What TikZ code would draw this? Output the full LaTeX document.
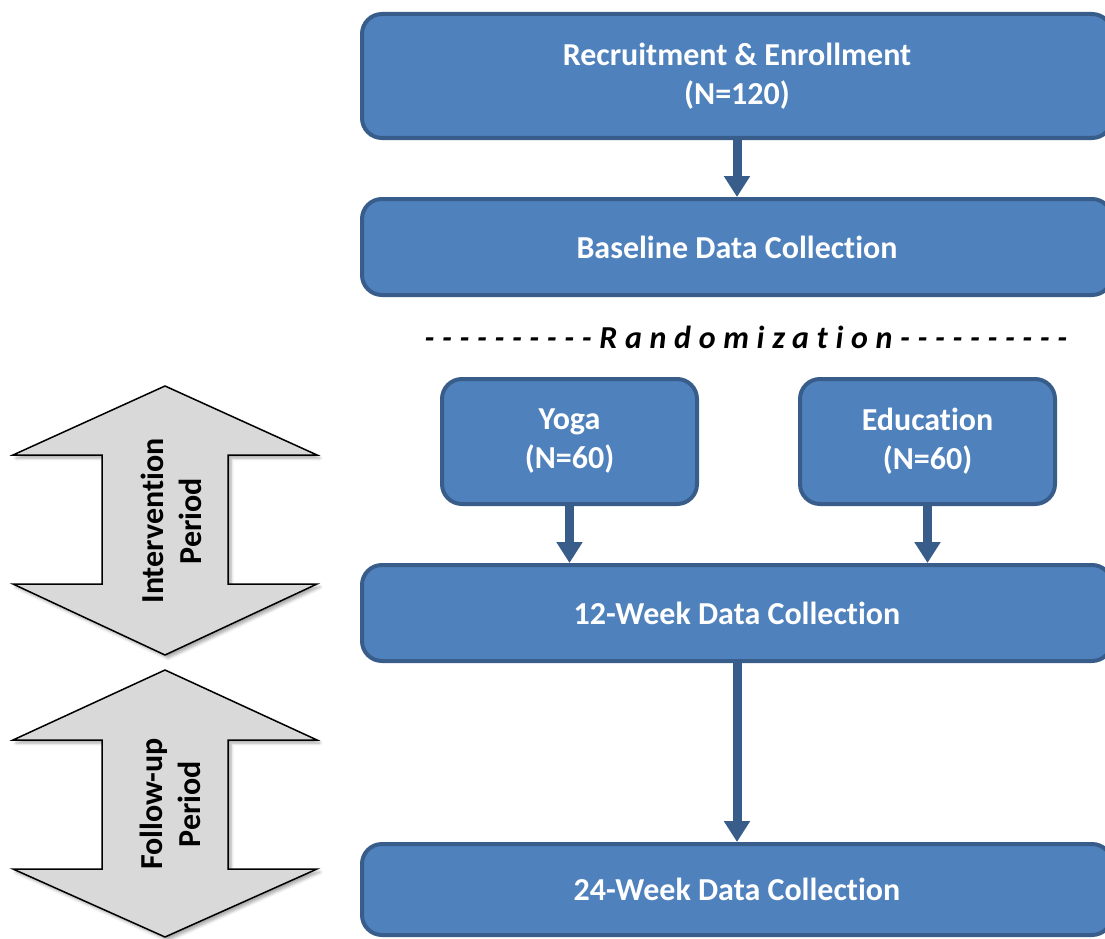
\documentclass[tikz,border=0pt]{standalone}
\usepackage{fontspec}
\setmainfont{Carlito}[Ligatures={TeX,NoCommon,NoContextual,NoRare}, Contextuals=NoAlternate]
\newfontfamily\randfont{Carlito}[LetterSpace=24, Ligatures={NoCommon,NoContextual,NoRare}, Contextuals=NoAlternate]
\usetikzlibrary{arrows.meta,shadows.blur}
\definecolor{boxfill}{HTML}{4F81BD}
\definecolor{boxline}{HTML}{385D8A}
\definecolor{periodfill}{HTML}{D9D9D9}
\newcommand{\dashrun}{-{}-{}-{}-{}-{}-{}-{}-{}-{}-}
\tikzset{
  stagebox/.style={draw=boxline, fill=boxfill, line width=4pt, rounded corners=20pt,
    text=white, align=center, inner sep=0pt, font=\fontsize{32}{39}\selectfont\bfseries},
  widebox/.style={stagebox, minimum width=750pt, minimum height=96pt},
  armbox/.style={stagebox, minimum width=255pt, minimum height=125pt},
  flow/.style={draw=boxline, line width=9pt, -{Triangle[length=21pt,width=25pt]}},
  period/.style={draw=black, line width=1.5pt, fill=periodfill, line join=miter,
    blur shadow={shadow xshift=3pt, shadow yshift=-3pt, shadow blur radius=3pt, shadow opacity=35}},
  periodtext/.style={rotate=90, align=center, inner sep=0pt, font=\fontsize{32}{38}\selectfont\bfseries}
}
\begin{document}
\begin{tikzpicture}[x=1pt,y=1pt,yscale=-1,xscale=1]
    \clip (0,0) rectangle (1105,939);
    % Period arrows
    \draw[period] (165,386) -- (317,455) -- (228,455) -- (228,584) -- (317,584) -- (165,655)
        -- (13,584) -- (102,584) -- (102,455) -- (13,455) -- cycle;
    \draw[period] (165,670) -- (317,740) -- (228,740) -- (228,869) -- (317,869) -- (165,937)
        -- (13,869) -- (102,869) -- (102,740) -- (13,740) -- cycle;
    \node[periodtext] (intv) at (171,521) {Intervention\\Period};
    \node[periodtext] (follow) at (170,804) {Follow-up\\Period};

    % Stages
    \node[stagebox, minimum width=750pt, minimum height=124pt] (rec) at (737,76) {Recruitment \& Enrollment\\(N=120)};
    \node[widebox] (base) at (737,247) {Baseline Data Collection};
    \node[anchor=base, inner sep=0pt, font=\fontsize{32}{38}\randfont\bfseries\itshape] (rand) at (746,348)
        {\dashrun Randomization\dashrun};
    \node[armbox] (yoga) at (569.5,441.5) {Yoga\\(N=60)};
    \node[armbox] (edu) at (927.5,441.5) {Education\\(N=60)};
    \node[widebox] (wk12) at (737,613) {12-Week Data Collection};
    \node[widebox, minimum height=91pt] (wk24) at (737,889.5) {24-Week Data Collection};

    % Flow
    \draw[flow] (rec) -- (base);
    \draw[flow] (yoga) -- (yoga |- wk12.north);
    \draw[flow] (edu) -- (edu |- wk12.north);
    \draw[flow] (wk12) -- (wk24);
\end{tikzpicture}
\end{document}
